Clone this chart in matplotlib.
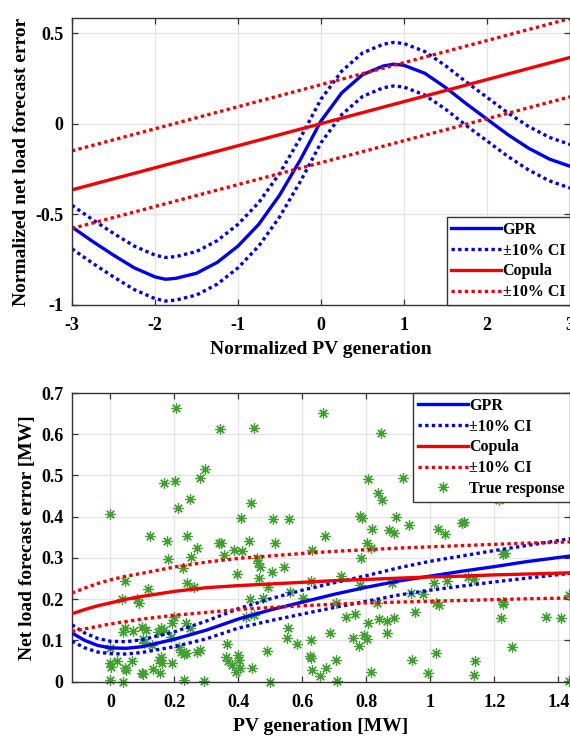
import matplotlib
matplotlib.use("Agg")
import matplotlib.pyplot as plt

plt.rcParams['font.family'] = ['Liberation Serif', 'DejaVu Serif']
plt.rcParams['font.weight'] = 'bold'
plt.rcParams['axes.unicode_minus'] = False

# ---------------- Top panel data ----------------
top_x = [-3.0, -2.75, -2.5, -2.25, -2.0, -1.875, -1.75, -1.5, -1.25, -1.0, -0.75, -0.5, -0.25,
         0.0, 0.25, 0.5, 0.75, 0.875, 1.0, 1.25, 1.5, 1.75, 2.0, 2.25, 2.5, 2.75, 3.0]
top_gpr = [-0.57, -0.65, -0.725, -0.795, -0.845, -0.858, -0.853, -0.825, -0.765, -0.675, -0.555,
           -0.395, -0.20, 0.015, 0.17, 0.27, 0.318, 0.328, 0.322, 0.278, 0.20, 0.11, 0.025,
           -0.06, -0.135, -0.195, -0.235]
top_gpr_up = [-0.45, -0.53, -0.605, -0.675, -0.725, -0.738, -0.733, -0.705, -0.645, -0.555,
              -0.435, -0.275, -0.08, 0.135, 0.29, 0.39, 0.438, 0.448, 0.442, 0.398, 0.32, 0.23,
              0.145, 0.06, -0.015, -0.075, -0.115]
top_gpr_lo = [-0.69, -0.77, -0.845, -0.915, -0.965, -0.978, -0.973, -0.945, -0.885, -0.795,
              -0.675, -0.515, -0.32, -0.105, 0.05, 0.15, 0.198, 0.208, 0.202, 0.158, 0.08,
              -0.01, -0.095, -0.18, -0.255, -0.315, -0.355]
top_cop_x = [-3.0, 3.0]
top_cop = [-0.365, 0.365]
top_cop_up = [-0.15, 0.58]
top_cop_lo = [-0.578, 0.148]
top_xticks = [-3, -2, -1, 0, 1, 2, 3]
top_xticklabels = ['-3', '-2', '-1', '0', '1', '2', '3']
top_yticks = [-1, -0.5, 0, 0.5]
top_yticklabels = ['-1', '-0.5', '0', '0.5']

# ---------------- Bottom panel data ----------------
bot_x = [-0.12, -0.08, -0.04, 0.0, 0.05, 0.1, 0.2, 0.3, 0.4, 0.5, 0.6, 0.7, 0.8, 0.9,
         1.0, 1.1, 1.2, 1.3, 1.44]
bot_gpr = [0.118, 0.100, 0.088, 0.082, 0.081, 0.085, 0.103, 0.125, 0.152, 0.174, 0.193,
           0.212, 0.229, 0.244, 0.256, 0.268, 0.279, 0.291, 0.305]
bot_gpr_up = [0.138, 0.118, 0.105, 0.098, 0.097, 0.102, 0.121, 0.147, 0.177, 0.201, 0.222,
              0.240, 0.257, 0.276, 0.292, 0.305, 0.318, 0.330, 0.347]
bot_gpr_lo = [0.098, 0.082, 0.072, 0.068, 0.067, 0.071, 0.085, 0.104, 0.130, 0.148, 0.164,
              0.180, 0.195, 0.210, 0.222, 0.232, 0.242, 0.251, 0.263]
bot_cop = [0.165, 0.175, 0.184, 0.191, 0.200, 0.207, 0.219, 0.228, 0.233, 0.237, 0.241,
           0.245, 0.248, 0.251, 0.254, 0.256, 0.259, 0.261, 0.264]
bot_cop_up = [0.215, 0.227, 0.238, 0.247, 0.256, 0.263, 0.278, 0.290, 0.299, 0.305, 0.311,
              0.316, 0.320, 0.324, 0.327, 0.330, 0.333, 0.336, 0.339]
bot_cop_lo = [0.122, 0.128, 0.134, 0.140, 0.146, 0.152, 0.161, 0.168, 0.175, 0.180, 0.184,
              0.188, 0.191, 0.193, 0.195, 0.197, 0.199, 0.201, 0.203]

true_x = [0.206, 0.664, 0.343, 0.448, 0.847, 0.297, 0.280, 0.169, 0.203, 0.804, 0.916, 0.248,
          0.836, 0.850, 0.212, 0.440, 0.000, 0.408, 0.508, 0.558, 0.781, 0.787, 0.894, 0.932,
          1.105, 0.818, 0.870, 0.886, 1.023, 1.046, 0.123, 0.240, 0.178, 0.434, 0.339, 0.347,
          0.516, 0.672, 0.801, 0.816, 0.271, 0.385, 0.412, 0.631, 0.180, 0.251, 0.226, 0.356,
          0.459, 0.784, 0.462, 0.468, 0.505, 0.544, 0.396, 0.721, 1.233, 0.046, 0.240, 0.260,
          0.465, 0.626, 0.562, 0.601, 1.011, 1.051, 1.117, 1.137, 0.880, 0.781, 0.035, 0.084,
          0.089, 0.117, 0.493, 0.437, 0.704, 0.833, 0.940, 0.977, 1.019, 1.028, 1.228, 1.228,
          1.433, 0.199, 0.191, 0.448, 0.425, 0.476, 0.735, 0.764, 0.804, 0.839, 0.866, 0.886,
          0.952, 1.220, 1.362, 1.408, 0.047, 0.038, 0.072, 0.098, 0.112, 0.148, 0.157, 0.167,
          0.235, 0.248, 0.554, 0.551, 0.582, 0.626, 0.687, 0.759, 0.776, 0.793, 0.801, 0.866,
          1.254, 1.017, 0.103, 0.106, 0.129, 0.189, 0.214, 0.222, 0.231, 0.237, 0.271, 0.280,
          0.364, 0.360, 0.368, 0.379, 0.400, 0.402, 0.405, 0.394, 0.442, 0.491, 0.624, 0.627,
          0.631, 0.656, 0.673, 0.706, 0.814, 0.943, 0.994, 1.140, 1.137, 0.000, 0.000, 0.003,
          0.020, 0.047, 0.049, 0.066, 0.100, 0.103, 0.134, 0.151, 0.157, 0.160, 0.154, 0.194,
          0.000, 0.038, 0.231, 0.292, 0.499, 0.707, 1.433, 1.216, 1.099, 1.226]
true_y = [0.664, 0.651, 0.613, 0.615, 0.603, 0.515, 0.494, 0.481, 0.487, 0.492, 0.495, 0.443,
          0.457, 0.441, 0.422, 0.433, 0.406, 0.397, 0.394, 0.394, 0.401, 0.397, 0.399, 0.379,
          0.387, 0.370, 0.368, 0.360, 0.370, 0.358, 0.354, 0.354, 0.342, 0.340, 0.337, 0.336,
          0.337, 0.354, 0.337, 0.324, 0.324, 0.320, 0.317, 0.320, 0.297, 0.302, 0.275, 0.308,
          0.299, 0.301, 0.287, 0.277, 0.267, 0.277, 0.260, 0.257, 0.312, 0.244, 0.239, 0.229,
          0.251, 0.243, 0.218, 0.202, 0.240, 0.244, 0.255, 0.248, 0.239, 0.235, 0.201, 0.200,
          0.190, 0.225, 0.229, 0.200, 0.190, 0.190, 0.216, 0.213, 0.190, 0.186, 0.194, 0.188,
          0.210, 0.156, 0.142, 0.162, 0.158, 0.204, 0.158, 0.164, 0.142, 0.151, 0.146, 0.154,
          0.168, 0.154, 0.156, 0.154, 0.129, 0.121, 0.123, 0.132, 0.125, 0.121, 0.129, 0.125,
          0.142, 0.129, 0.131, 0.105, 0.091, 0.100, 0.117, 0.105, 0.087, 0.113, 0.104, 0.119,
          0.083, 0.069, 0.103, 0.093, 0.089, 0.109, 0.085, 0.073, 0.066, 0.070, 0.073, 0.078,
          0.091, 0.061, 0.050, 0.040, 0.065, 0.053, 0.034, 0.024, 0.034, 0.074, 0.062, 0.058,
          0.028, 0.014, 0.034, 0.053, 0.023, 0.053, 0.022, 0.050, 0.016, 0.081, 0.045, 0.036,
          0.049, 0.034, 0.028, 0.049, 0.022, 0.019, 0.030, 0.053, 0.061, 0.046, 0.020, 0.045,
          0.004, 0.000, 0.004, 0.002, 0.000, 0.002, 0.002, 0.441, 0.386, 0.310]
bot_xticks = [0, 0.2, 0.4, 0.6, 0.8, 1.0, 1.2, 1.4]
bot_xticklabels = ['0', '0.2', '0.4', '0.6', '0.8', '1', '1.2', '1.4']
bot_yticks = [0, 0.1, 0.2, 0.3, 0.4, 0.5, 0.6, 0.7]
bot_yticklabels = ['0', '0.1', '0.2', '0.3', '0.4', '0.5', '0.6', '0.7']

BLUE = '#0000f0'
RED = '#f00000'
GREEN = '#40a030'
DOT = (0, (1, 1))
LW = 2.4
TICK_FS = 13
LABEL_FS = 14
LEG_FS = 11.5
star = (8, 2, 0)

fig = plt.figure(figsize=(5.70, 7.39), dpi=100)


def style_axes(ax):
    ax.grid(True, color='#e3e3e3', linewidth=0.9)
    ax.set_axisbelow(True)
    ax.tick_params(direction='in', top=True, right=True, length=4, width=0.9,
                   color='#333333', labelsize=TICK_FS)
    ax.tick_params(axis='x', pad=9)
    ax.tick_params(axis='y', pad=6)
    for s in ax.spines.values():
        s.set_color('#333333')
        s.set_linewidth(1.0)
    for lab in ax.get_xticklabels() + ax.get_yticklabels():
        lab.set_fontweight('bold')


# ---------------- Top panel ----------------
ax1 = fig.add_axes([72 / 570, 1 - 305 / 739, 498 / 570, 286.5 / 739])
ax1.plot(top_x, top_gpr, color=BLUE, lw=LW, label='GPR')
ax1.plot(top_x, top_gpr_up, color=BLUE, lw=LW, ls=DOT, label='±10% CI')
ax1.plot(top_x, top_gpr_lo, color=BLUE, lw=LW, ls=DOT)
ax1.plot(top_cop_x, top_cop, color=RED, lw=LW, label='Copula')
ax1.plot(top_cop_x, top_cop_up, color=RED, lw=LW, ls=DOT, label='±10% CI')
ax1.plot(top_cop_x, top_cop_lo, color=RED, lw=LW, ls=DOT)
ax1.set_xlim(-3, 3)
ax1.set_ylim(-1, 0.58)
ax1.set_xticks(top_xticks)
ax1.set_xticklabels(top_xticklabels)
ax1.set_yticks(top_yticks)
ax1.set_yticklabels(top_yticklabels)
style_axes(ax1)
ax1.set_xlabel('Normalized PV generation', fontsize=LABEL_FS, fontweight='bold', labelpad=5)
ax1.set_ylabel('Normalized net load forecast error', fontsize=LABEL_FS, fontweight='bold', labelpad=4)
leg1 = ax1.legend(loc='lower right', borderaxespad=0, handlelength=3.1,
                  handletextpad=0.1, labelspacing=0.3, borderpad=0.3, fancybox=False,
                  framealpha=1, edgecolor='#333333', prop={'weight': 'bold', 'size': LEG_FS})
leg1.get_frame().set_linewidth(1.0)

# ---------------- Bottom panel ----------------
ax2 = fig.add_axes([72 / 570, 1 - 681.7 / 739, 497.5 / 570, 288.7 / 739])
ax2.plot(bot_x, bot_gpr, color=BLUE, lw=LW, label='GPR', zorder=3)
ax2.plot(bot_x, bot_gpr_up, color=BLUE, lw=LW, ls=DOT, label='±10% CI', zorder=3)
ax2.plot(bot_x, bot_gpr_lo, color=BLUE, lw=LW, ls=DOT, zorder=3)
ax2.plot(bot_x, bot_cop, color=RED, lw=LW, label='Copula', zorder=3)
ax2.plot(bot_x, bot_cop_up, color=RED, lw=LW, ls=DOT, label='±10% CI', zorder=3)
ax2.plot(bot_x, bot_cop_lo, color=RED, lw=LW, ls=DOT, zorder=3)
ax2.plot(true_x, true_y, ls='none', marker=star, markersize=7.5, markeredgewidth=0.9,
         color=GREEN, label='True response', zorder=2, clip_on=False)
ax2.set_xlim(-0.12, 1.435)
ax2.set_ylim(0, 0.7)
ax2.set_xticks(bot_xticks)
ax2.set_xticklabels(bot_xticklabels)
ax2.set_yticks(bot_yticks)
ax2.set_yticklabels(bot_yticklabels)
style_axes(ax2)
ax2.set_xlabel('PV generation [MW]', fontsize=LABEL_FS, fontweight='bold', labelpad=5)
ax2.set_ylabel('Net load forecast error [MW]', fontsize=LABEL_FS, fontweight='bold', labelpad=4)
leg2 = ax2.legend(loc='upper right', borderaxespad=0, handlelength=3.1,
                  handletextpad=0.1, labelspacing=0.3, borderpad=0.3, fancybox=False,
                  framealpha=1, edgecolor='#333333', prop={'weight': 'bold', 'size': LEG_FS})
leg2.get_frame().set_linewidth(1.0)
leg2.set_zorder(5)

fig.savefig('out.png', dpi=100)
